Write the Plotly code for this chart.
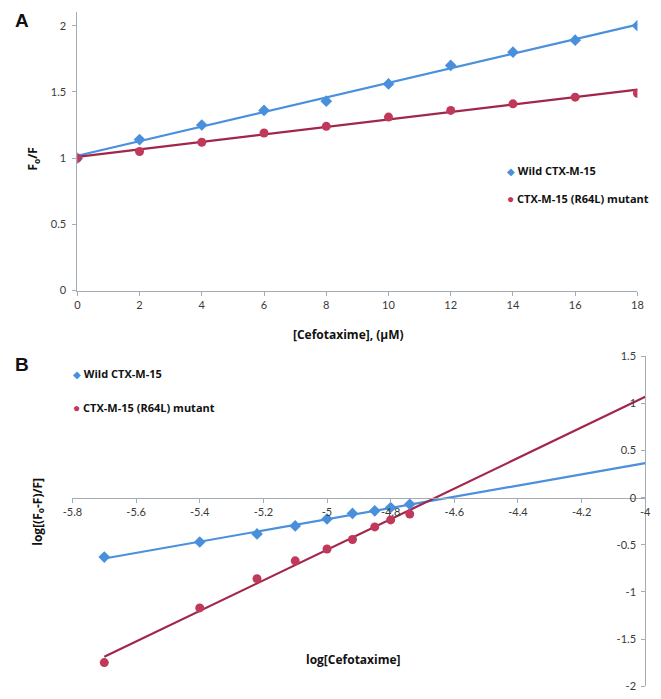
import numpy as np
import plotly.graph_objects as go

W, H = 661, 699

# ---------------- data ----------------
conc_uM = [0, 2, 4, 6, 8, 10, 12, 14, 16, 18]
wild_F0F = [1.00, 1.14, 1.25, 1.36, 1.43, 1.56, 1.70, 1.80, 1.89, 2.00]
mut_F0F = [1.00, 1.05, 1.12, 1.19, 1.24, 1.31, 1.36, 1.41, 1.46, 1.49]

log_conc = [-5.70, -5.40, -5.22, -5.10, -5.00, -4.92, -4.85, -4.80, -4.74]
wild_log = [-0.63, -0.47, -0.385, -0.30, -0.226, -0.167, -0.139, -0.104, -0.07]
mut_log = [-1.75, -1.17, -0.86, -0.67, -0.545, -0.444, -0.31, -0.236, -0.174]

a_xticks = [0, 2, 4, 6, 8, 10, 12, 14, 16, 18]
a_yticks = [0, 0.5, 1, 1.5, 2]
a_ytext = ["0", "0.5", "1", "1.5", "2"]
b_xticks = [-5.8, -5.6, -5.4, -5.2, -5.0, -4.8, -4.6, -4.4, -4.2, -4.0]
b_xtext = ["-5.8", "-5.6", "-5.4", "-5.2", "-5", "-4.8", "-4.6", "-4.4", "-4.2", "-4"]
b_yticks = [-2, -1.5, -1, -0.5, 0, 0.5, 1, 1.5]
b_ytext = ["-2", "-1.5", "-1", "-0.5", "0", "0.5", "1", "1.5"]

series_names = ["Wild CTX-M-15", "CTX-M-15 (R64L) mutant"]

# ---------------- styles ----------------
BLUE = "#4a8fdc"
BLUE_LINE = "#4a90dc"
RED = "#c0385a"
RED_LINE = "#a2264a"
AXIS = "#a3abb5"
TICKCOL = "#3a3a3a"
FONT = "Lato"
BOLDFONT = "Open Sans"


def xp(px):
    return px / W


def yp(py):
    return 1 - py / H


A_XRANGE = [0, 18]
A_YRANGE = [0, 2.1]
B_XRANGE = [-5.8, -4.0]
B_YRANGE = [-2, 1.5]

fig = go.Figure()

# --- Panel A trendlines ---
ca = np.array(conc_uM, dtype=float)
for ys, col in [(wild_F0F, BLUE_LINE), (mut_F0F, RED_LINE)]:
    k, b = np.polyfit(ca, np.array(ys), 1)
    xs = np.array([ca[0], ca[-1]])
    fig.add_trace(go.Scatter(x=xs, y=k * xs + b, mode="lines",
                             line=dict(color=col, width=2.2),
                             showlegend=False, hoverinfo="skip",
                             xaxis="x", yaxis="y"))
fig.add_trace(go.Scatter(x=conc_uM, y=wild_F0F, mode="markers", name=series_names[0],
                         marker=dict(symbol="diamond", size=9, color=BLUE),
                         showlegend=False, xaxis="x", yaxis="y"))
fig.add_trace(go.Scatter(x=conc_uM, y=mut_F0F, mode="markers", name=series_names[1],
                         marker=dict(symbol="circle", size=9, color=RED),
                         showlegend=False, xaxis="x", yaxis="y"))

# --- Panel B trendlines ---
lb = np.array(log_conc, dtype=float)
for ys, col in [(wild_log, BLUE_LINE), (mut_log, RED_LINE)]:
    k, b = np.polyfit(lb, np.array(ys), 1)
    xs = np.array([lb[0], B_XRANGE[1]])
    fig.add_trace(go.Scatter(x=xs, y=k * xs + b, mode="lines",
                             line=dict(color=col, width=2.2),
                             showlegend=False, hoverinfo="skip",
                             xaxis="x2", yaxis="y2"))
fig.add_trace(go.Scatter(x=log_conc, y=wild_log, mode="markers", name=series_names[0],
                         marker=dict(symbol="diamond", size=9, color=BLUE),
                         showlegend=False, xaxis="x2", yaxis="y2"))
fig.add_trace(go.Scatter(x=log_conc, y=mut_log, mode="markers", name=series_names[1],
                         marker=dict(symbol="circle", size=9, color=RED),
                         showlegend=False, xaxis="x2", yaxis="y2"))

# domains (paper == full figure since margins are 0)
a_xdom = [xp(69), xp(643)]
a_ydom = [yp(289), yp(5.5)]
b_xdom = [xp(64), xp(651)]
b_ydom = [yp(692), yp(356)]
b_zero_pos = b_ydom[0] + (0 - B_YRANGE[0]) / (B_YRANGE[1] - B_YRANGE[0]) * (b_ydom[1] - b_ydom[0])

tickfont = dict(family=FONT, size=11, color=TICKCOL)

fig.update_layout(
    width=W, height=H,
    margin=dict(l=0, r=0, t=0, b=0),
    paper_bgcolor="white", plot_bgcolor="white",
    font=dict(family=FONT, color="#222222"),
    showlegend=False,
    xaxis=dict(domain=a_xdom, anchor="y", range=A_XRANGE,
               tickmode="array", tickvals=a_xticks,
               ticks="outside", ticklen=4, tickcolor=AXIS,
               showline=True, linecolor=AXIS, linewidth=1,
               showgrid=False, zeroline=False, tickfont=tickfont,
               ticklabeloverflow="allow"),
    yaxis=dict(domain=a_ydom, anchor="x", range=A_YRANGE,
               tickmode="array", tickvals=a_yticks, ticktext=a_ytext,
               ticks="outside", ticklen=4, tickcolor=AXIS,
               showline=True, linecolor=AXIS, linewidth=1,
               showgrid=False, zeroline=False, tickfont=tickfont,
               ticklabelstandoff=4, ticklabeloverflow="allow"),
    xaxis2=dict(domain=b_xdom, anchor="free", position=b_zero_pos, range=B_XRANGE,
                tickmode="array", tickvals=b_xticks, ticktext=b_xtext,
                ticks="outside", ticklen=4, tickcolor=AXIS,
                showline=True, linecolor=AXIS, linewidth=1,
                showgrid=False, zeroline=False, tickfont=tickfont,
                ticklabeloverflow="allow"),
    yaxis2=dict(domain=b_ydom, anchor="free", position=b_xdom[1], side="left",
                range=B_YRANGE,
                tickmode="array", tickvals=b_yticks, ticktext=b_ytext,
                ticks="outside", ticklen=4, tickcolor=AXIS,
                showline=True, linecolor=AXIS, linewidth=1,
                showgrid=False, zeroline=False, tickfont=tickfont,
                ticklabelstandoff=3, ticklabeloverflow="allow"),
)

title_font = dict(family=BOLDFONT, size=12, color="#111111")
legend_font = dict(family=BOLDFONT, size=11, color="#111111")


def legend_text(symbol, color, label, size):
    return f"<span style='color:{color};font-size:{size}px'>{symbol}</span> <b>{label}</b>"


annotations = [
    # panel labels
    dict(x=xp(3), y=yp(1), xanchor="left", yanchor="top", text="<b>A</b>",
         font=dict(family="Liberation Sans", size=19, color="#111111")),
    dict(x=xp(3), y=yp(352), xanchor="left", yanchor="top", text="<b>B</b>",
         font=dict(family="Liberation Sans", size=19, color="#111111")),
    # axis titles
    dict(x=xp(347), y=yp(334), xanchor="center", yanchor="middle",
         text="<b>[Cefotaxime], (µM)</b>", font=title_font),
    dict(x=xp(24), y=yp(155), xanchor="center", yanchor="middle", textangle=-90,
         text="<b>F<sub>o</sub>/F</b>", font=title_font),
    dict(x=xp(352), y=yp(665), xanchor="center", yanchor="middle",
         text="<b>log[Cefotaxime]</b>", font=title_font),
    dict(x=xp(29), y=yp(514), xanchor="center", yanchor="middle", textangle=-90,
         text="<b>log[(F<sub>o</sub>-F)/F]</b>", font=title_font),
    # legend A
    dict(x=xp(507), y=yp(167), xanchor="left", yanchor="middle",
         text=legend_text("◆", BLUE, series_names[0], 10), font=legend_font),
    dict(x=xp(507), y=yp(195), xanchor="left", yanchor="middle",
         text=legend_text("●", RED, series_names[1], 12), font=legend_font),
    # legend B
    dict(x=xp(63), y=yp(373), xanchor="left", yanchor="middle",
         text=legend_text("◆", BLUE, series_names[0], 10), font=legend_font),
    dict(x=xp(63), y=yp(408), xanchor="left", yanchor="middle",
         text=legend_text("●", RED, series_names[1], 12), font=legend_font),
]
for a in annotations:
    a.update(xref="paper", yref="paper", showarrow=False)
fig.update_layout(annotations=annotations)

fig.write_html("out.html")
